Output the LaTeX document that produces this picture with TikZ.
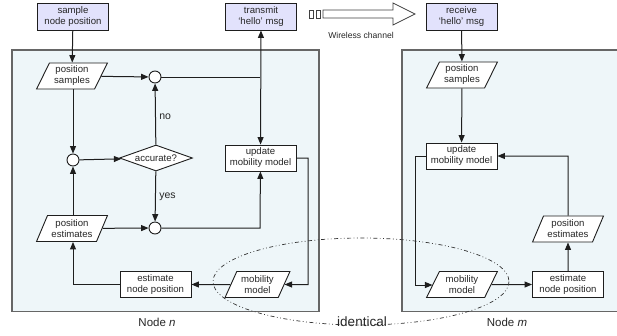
\documentclass[tikz,border=0pt]{standalone}
\usepackage{fontspec}
\setmainfont{Liberation Sans}
\usetikzlibrary{shapes.geometric,arrows.meta}
\definecolor{panelfill}{RGB}{238,246,249}
\definecolor{topfill}{RGB}{226,226,252}
\definecolor{linec}{RGB}{30,30,30}
\begin{document}
\begin{tikzpicture}[x=1pt,y=-1pt,
  every node/.style={font=\fontsize{9.6}{11}\selectfont, align=center, text=black!85},
  conn/.style={draw=linec, line width=1pt},
  arr/.style={conn, -{Triangle[length=7.5pt,width=6pt]}},
  panel/.style={draw=black!60, line width=1.3pt, fill=panelfill},
  procbox/.style={draw=linec, line width=0.9pt, fill=white, rectangle, inner sep=0pt, minimum width=71pt, minimum height=26pt},
  topbox/.style={procbox, fill=topfill, minimum height=27pt},
  databox/.style={draw=linec, line width=0.9pt, fill=white, trapezium, trapezium left angle=63, trapezium right angle=117, trapezium stretches=true, inner sep=0pt, minimum width=71pt, minimum height=26pt},
  junct/.style={draw=linec, line width=0.9pt, fill=white, circle, inner sep=0pt, minimum size=12pt},
  decision/.style={draw=linec, line width=0.9pt, fill=white, diamond, aspect=2.8, inner sep=0pt, minimum width=73pt, minimum height=26pt},
  lbl/.style={font=\fontsize{10.5}{12}\selectfont}
]
\useasboundingbox (0,0) rectangle (617,335);
% panels
\path[panel] (12,50) rectangle (319,311.5);
\path[panel] (402,50) rectangle (620,311.5);
% top boxes
\node[topbox] (sample) at (73,16.5) {sample\\node position};
\node[topbox] (transmit) at (261,16.5) {transmit\\`hello' msg};
\node[topbox] (receive) at (461.5,16.5) {receive\\`hello' msg};
% wireless channel arrow
\draw[draw=black!75, line width=0.7pt, fill=white] (309,10) rectangle (313,18);
\draw[draw=black!75, line width=0.7pt, fill=white] (316,10) rectangle (320,18);
\draw[draw=black!75, line width=0.7pt, fill=white]
  (323,10) -- (393,10) -- (393,3) -- (415,14) -- (393,25) -- (393,18) -- (323,18) -- cycle;
\node[font=\fontsize{8.6}{10}\selectfont] (wire) at (361,35) {Wireless channel};
% left panel nodes
\node[databox] (psL) at (72,76) {position\\samples};
\node[junct] (cTop) at (155,77) {};
\node[junct] (cLeft) at (73,160) {};
\node[decision] (acc) at (156,158) {accurate?};
\node[procbox] (updL) at (260.5,158) {update\\mobility model};
\node[databox] (peL) at (72,228.5) {position\\estimates};
\node[junct] (cBot) at (155,228) {};
\node[procbox] (estL) at (155.5,284.5) {estimate\\node position};
\node[databox, minimum width=65pt] (mmL) at (257.5,284.5) {mobility\\model};
\coordinate (jT) at (260,77);
\coordinate (jB) at (260,228);
\coordinate (rL1) at (308,158);
\coordinate (rL2) at (308,284.5);
\coordinate (eL) at (73,284.5);
% left panel connectors
\draw[arr] (sample) -- (psL);
\draw[arr] (psL) -- (cTop);
\draw[conn] (cTop) -- (jT);
\draw[arr, {Triangle[length=7.5pt,width=6pt]}-{Triangle[length=7.5pt,width=6pt]}] (transmit) -- (updL);
\draw[arr] (psL.south -| cLeft) -- (cLeft);
\draw[arr] (cLeft) -- (acc);
\draw[arr] (acc) -- node[right, lbl, pos=0.45] {no} (cTop);
\draw[arr] (acc) -- node[right, lbl, pos=0.5] {yes} (cBot);
\draw[arr] (peL.north -| cLeft) -- (cLeft);
\draw[arr] (peL) -- (cBot);
\draw[arr] (cBot) -- (jB) -- (updL);
\draw[arr] (updL.east) -- (rL1) -- (rL2) -- (mmL.east);
\draw[arr] (mmL) -- (estL);
\draw[arr] (estL.west) -- (eL) -- (peL.south -| eL);
% right panel nodes
\node[databox] (psR) at (462,75) {position\\samples};
\node[procbox] (updR) at (461.5,156) {update\\mobility model};
\node[databox] (mmR) at (462,284.5) {mobility\\model};
\node[procbox] (estR) at (568,284.5) {estimate\\node position};
\node[databox] (peR) at (568,229) {position\\estimates};
\coordinate (lR1) at (415,156);
\coordinate (lR2) at (415,285);
\coordinate (uR) at (568,156);
\draw[arr] (receive) -- (psR);
\draw[arr] (psR) -- (updR);
\draw[arr] (updR.west) -- (lR1) -- (lR2) -- (mmR.west |- lR2);
\draw[arr] (mmR) -- (estR);
\draw[arr] (estR) -- (peR);
\draw[arr] (peR.north) -- (uR) -- (updR.east);
% identical ellipse
\draw[black!80, line width=0.7pt, dash pattern=on 4pt off 2.5pt on 0.8pt off 2.5pt on 0.8pt off 2.5pt] (361,281.5) ellipse [x radius=148, y radius=43.5];
% labels
\node[font=\fontsize{11.5}{13}\selectfont] (nodeN) at (157,322) {Node \textit{n}};
\node[font=\fontsize{11.5}{13}\selectfont] (nodeM) at (507,322) {Node \textit{m}};
\node[font=\fontsize{13.5}{15}\selectfont] (ident) at (362,322) {identical};
\end{tikzpicture}
\end{document}
